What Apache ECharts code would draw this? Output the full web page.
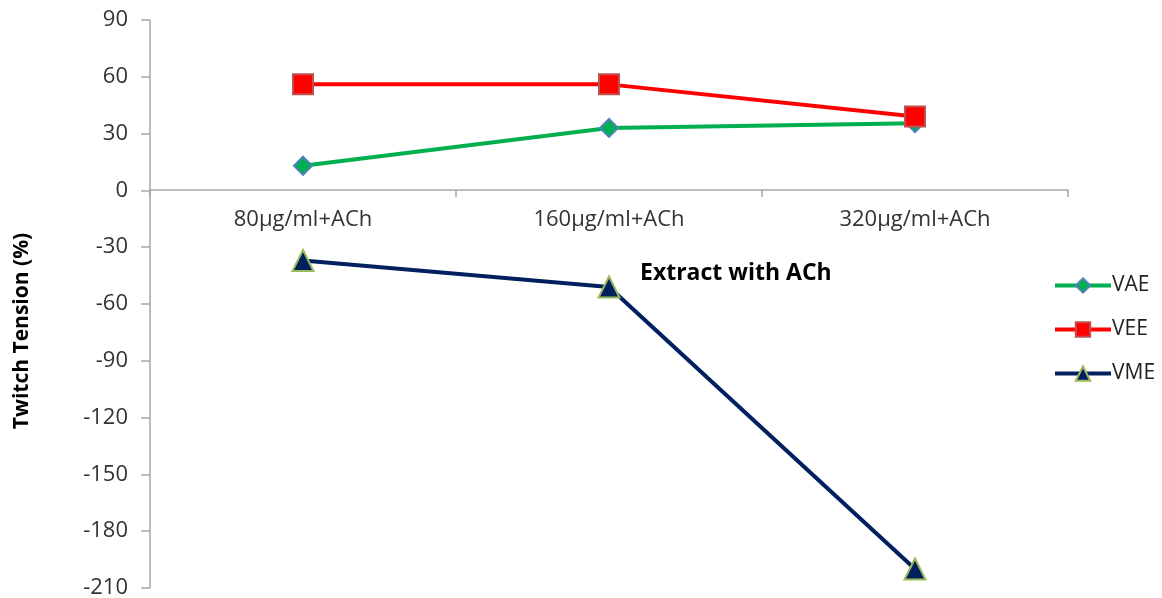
<!DOCTYPE html>
<html><head><meta charset="utf-8">
<script src="https://cdn.jsdelivr.net/npm/echarts@6/dist/echarts.min.js"></script>
<style>html,body{margin:0;padding:0;background:#fff}#c{width:1162px;height:598px}</style>
</head><body><div id="c"></div>
<script>
const categories = ['80µg/ml+ACh', '160µg/ml+ACh', '320µg/ml+ACh'];
const vae = [13, 33, 35.5];
const vee = [56, 56, 39];
const vme = [-37, -51, -200];
const yTicks = { min: -210, max: 90, interval: 30 };

const FONT = '"Open Sans", Lato, sans-serif';
const chart = echarts.init(document.getElementById('c'));
chart.setOption({
  animation: false,
  backgroundColor: '#fff',
  grid: { left: 150, top: 20, right: 94, bottom: 10, containLabel: false, outerBoundsMode: 'none' },
  graphic: [
    { type: 'text', left: 640, top: 262, style: { text: 'Extract with ACh', font: 'bold 23px ' + FONT, fill: '#000' } },
    { type: 'text', x: 22, y: 331, rotation: Math.PI / 2, style: { text: 'Twitch Tension (%)', font: 'bold 21px ' + FONT, fill: '#000', align: 'center', verticalAlign: 'middle' } }
  ],
  legend: {
    orient: 'vertical', left: 1048, top: 270, itemWidth: 56, itemHeight: 18, itemGap: 23,
    lineStyle: { width: 4 },
    textStyle: { fontFamily: FONT, fontSize: 21, color: '#222', padding: [0, 0, 0, -4] },
    data: ['VAE', 'VEE', 'VME']
  },
  xAxis: {
    type: 'category', data: categories, boundaryGap: true, position: 'bottom', offset: -398,
    axisLine: { onZero: false, lineStyle: { color: '#a6a6a6', width: 1.5 } },
    axisTick: { show: true, length: 7, lineStyle: { color: '#a6a6a6', width: 1.5 } },
    axisLabel: { margin: 19, fontFamily: FONT, fontSize: 22, color: '#333' },
    splitLine: { show: false }
  },
  yAxis: {
    type: 'value', min: yTicks.min, max: yTicks.max, interval: yTicks.interval,
    axisLine: { show: true, lineStyle: { color: '#a6a6a6', width: 1.5 } },
    axisTick: { show: true, length: 9, lineStyle: { color: '#a6a6a6', width: 1.5 } },
    axisLabel: { margin: 22, fontFamily: FONT, fontSize: 22, color: '#333' },
    splitLine: { show: false }
  },
  series: [
    { name: 'VAE', type: 'line', data: vae, symbol: 'diamond', symbolSize: 18,
      lineStyle: { color: '#00b050', width: 4 },
      itemStyle: { color: '#00b050', borderColor: '#4f81bd', borderWidth: 2 } },
    { name: 'VEE', type: 'line', data: vee, symbol: 'rect', symbolSize: 20,
      lineStyle: { color: '#ff0000', width: 4 },
      itemStyle: { color: '#ff0000', borderColor: '#c0504d', borderWidth: 2 } },
    { name: 'VME', type: 'line', data: vme, symbol: 'triangle', symbolSize: 21,
      lineStyle: { color: '#002060', width: 4 },
      itemStyle: { color: '#002060', borderColor: '#9bbb59', borderWidth: 2 } }
  ]
});
</script></body></html>
